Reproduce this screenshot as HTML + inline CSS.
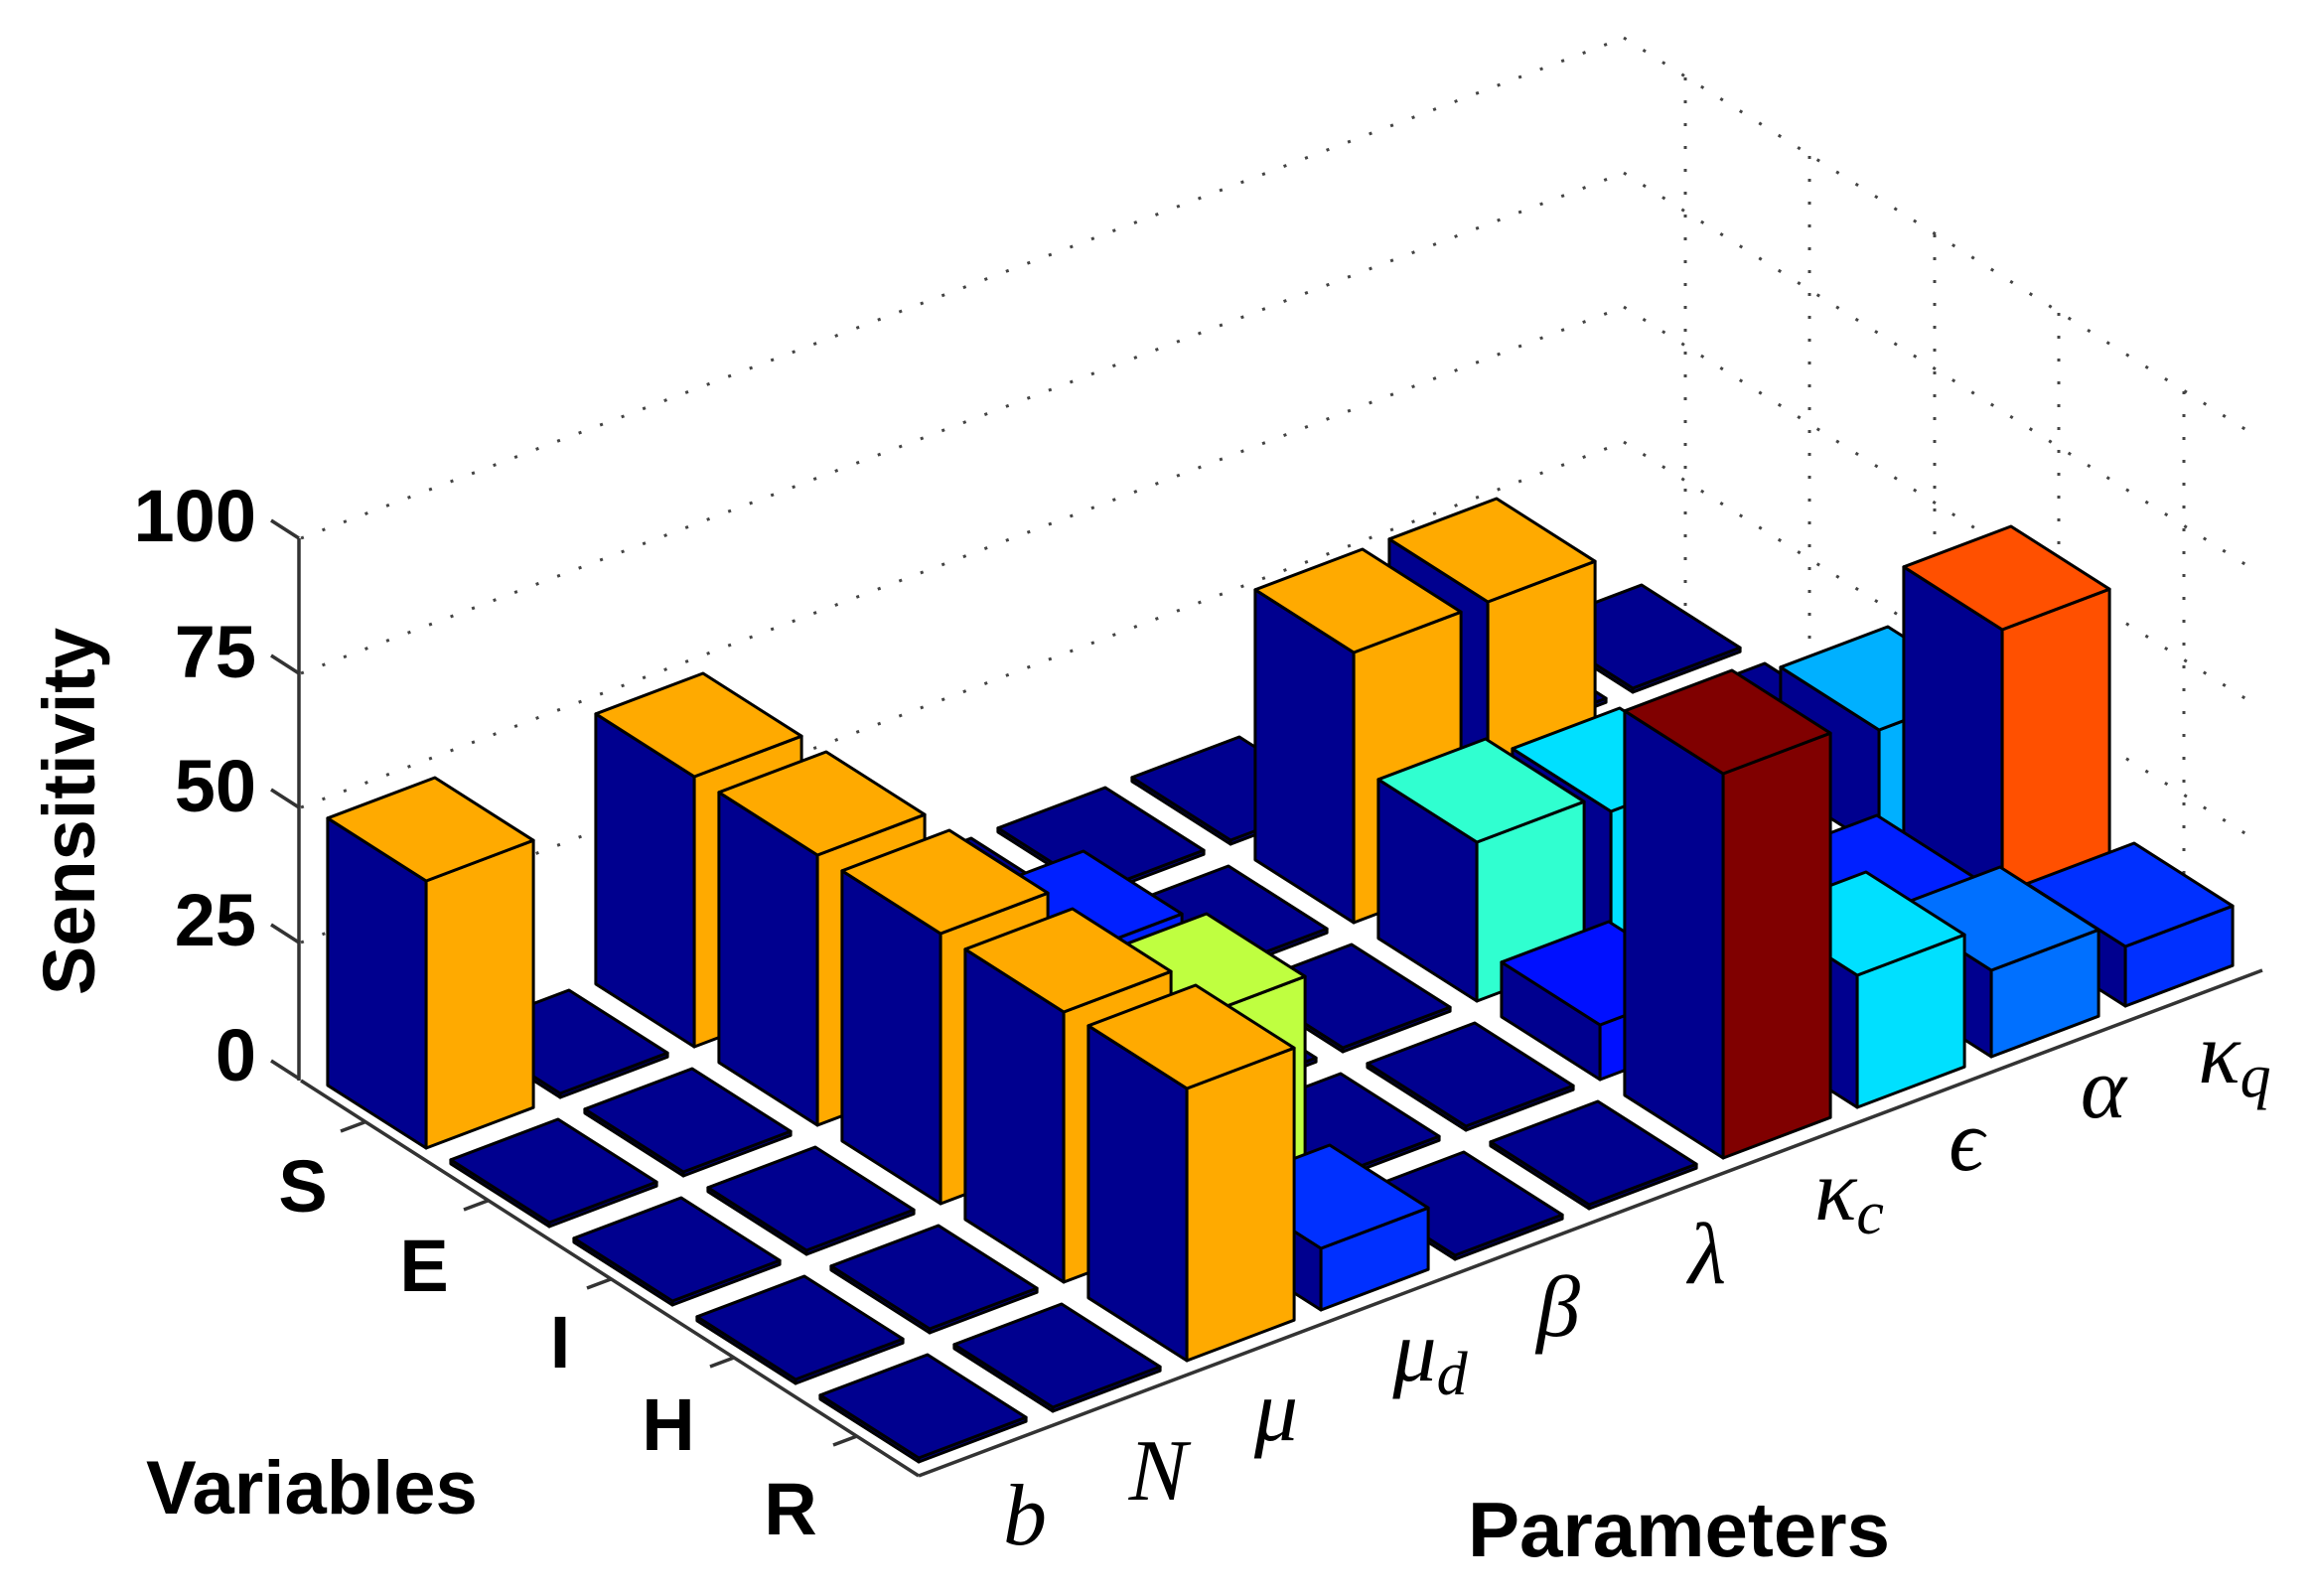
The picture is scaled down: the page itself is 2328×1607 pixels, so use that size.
<!DOCTYPE html>
<html><head><meta charset="utf-8"><style>
html,body{margin:0;padding:0;background:#fff;}
svg{display:block;}
.lab{font-family:"Liberation Sans",Arial,sans-serif;font-weight:bold;fill:#000;}
.par{font-family:"Liberation Serif","DejaVu Serif",serif;font-style:italic;fill:#000;}
</style></head><body>
<svg id="s" width="2328" height="1607" viewBox="0 0 2328 1607" xmlns="http://www.w3.org/2000/svg">
<g id="grid" fill="none" stroke="#444" stroke-width="3" stroke-dasharray="3 20">
<line x1="303" y1="542" x2="1635" y2="38"/>
<line x1="303" y1="678" x2="1635" y2="174"/>
<line x1="303" y1="813" x2="1635" y2="309"/>
<line x1="303" y1="949" x2="1635" y2="445"/>
<line x1="1635" y1="38" x2="2262" y2="433"/>
<line x1="1635" y1="174" x2="2262" y2="569"/>
<line x1="1635" y1="309" x2="2262" y2="704"/>
<line x1="1635" y1="445" x2="2262" y2="840"/>
<line x1="1697" y1="78" x2="1697" y2="620"/>
<line x1="1822" y1="157" x2="1822" y2="699"/>
<line x1="1948" y1="236" x2="1948" y2="778"/>
<line x1="2073" y1="315" x2="2073" y2="857"/>
<line x1="2199" y1="394" x2="2199" y2="936"/>
</g>
<g stroke="#333" stroke-width="3.5" fill="none">
<line x1="301" y1="542" x2="301" y2="1088"/>
<line x1="301" y1="542" x2="273" y2="524"/>
<line x1="301" y1="678" x2="273" y2="660"/>
<line x1="301" y1="813" x2="273" y2="795"/>
<line x1="301" y1="949" x2="273" y2="931"/>
<line x1="301" y1="1086" x2="273" y2="1068"/>
<line x1="303" y1="1088" x2="925" y2="1486"/>
<line x1="925" y1="1486" x2="2278" y2="977"/>
<line x1="367" y1="1130" x2="343" y2="1139"/>
<line x1="491" y1="1209" x2="467" y2="1218"/>
<line x1="615" y1="1288" x2="591" y2="1297"/>
<line x1="739" y1="1367" x2="715" y2="1376"/>
<line x1="863" y1="1446" x2="839" y2="1455"/>
</g>
<g id="bars" stroke="#000" stroke-width="3" stroke-linejoin="round"></g>
<text class="lab" font-size="74" x="258" y="545" text-anchor="end">100</text>
<text class="lab" font-size="74" x="258" y="682" text-anchor="end">75</text>
<text class="lab" font-size="74" x="258" y="817" text-anchor="end">50</text>
<text class="lab" font-size="74" x="258" y="952" text-anchor="end">25</text>
<text class="lab" font-size="74" x="258" y="1088" text-anchor="end">0</text>
<text class="lab" font-size="74" transform="translate(95,817) rotate(-90)" text-anchor="middle">Sensitivity</text>
<text class="lab" font-size="74" x="305" y="1220" text-anchor="middle">S</text>
<text class="lab" font-size="74" x="427" y="1300" text-anchor="middle">E</text>
<text class="lab" font-size="74" x="564" y="1377" text-anchor="middle">I</text>
<text class="lab" font-size="74" x="673" y="1460" text-anchor="middle">H</text>
<text class="lab" font-size="74" x="796" y="1545" text-anchor="middle">R</text>
<text class="lab" font-size="76" x="147" y="1524">Variables</text>
<text class="lab" font-size="78" x="1478" y="1567">Parameters</text>
<text class="par" font-size="88" x="1032" y="1555" text-anchor="middle">b</text>
<text class="par" font-size="88" x="1166" y="1510" text-anchor="middle">N</text>
<text class="par" font-size="88" x="1285" y="1450" text-anchor="middle">μ</text>
<text class="par" font-size="88" x="1440" y="1390" text-anchor="middle">μ<tspan font-size="62" dy="14">d</tspan></text>
<text class="par" font-size="88" x="1569" y="1345" text-anchor="middle">β</text>
<text class="par" font-size="88" x="1719" y="1292" text-anchor="middle">λ</text>
<text class="par" font-size="88" x="1862" y="1228" text-anchor="middle">κ<tspan font-size="62" dy="14">c</tspan></text>
<text class="par" font-size="88" x="1980" y="1178" text-anchor="middle">ϵ</text>
<text class="par" font-size="88" x="2118" y="1125" text-anchor="middle">α</text>
<text class="par" font-size="88" x="2250" y="1090" text-anchor="middle">κ<tspan font-size="62" dy="14">q</tspan></text>
</svg>
<script>
(function(){
var O=[304,1090],U=[135,-51],V=[124,79];
function P(a,b,h){return (O[0]+U[0]*a+V[0]*b).toFixed(1)+','+(O[1]+U[1]*a+V[1]*b-h).toFixed(1);}
var NAVY='#00008F';
var spec={
'0,0':[269,'#FFAA00'],
'2,0':[272,'#FFAA00'],'2,1':[272,'#FFAA00'],'2,2':[272,'#FFAA00'],'2,3':[272,'#FFAA00'],'2,4':[274,'#FFAA00'],
'3,2':[200,'#0020FF'],'3,3':[216,'#BFFF40'],'3,4':[62,'#0030FF'],
'6,1':[272,'#FFAA00'],'7,1':[272,'#FFAA00'],
'6,2':[160,'#30FFD0'],'7,2':[140,'#00E0FF'],
'6,3':[55,'#0010FF'],'6,4':[387,'#800000'],
'7,4':[133,'#00E0FF'],'8,3':[60,'#0020FF'],'8,4':[87,'#0070FF'],
'9,2':[120,'#00B0FF'],'9,3':[300,'#FF5000'],'9,4':[60,'#0030FF']
};
var cells=[];
for(var i=0;i<10;i++)for(var j=0;j<5;j++)cells.push([i,j]);
cells.sort(function(p,q){return (p[1]-p[0])-(q[1]-q[0]) || (p[1]-q[1]);});
var g=document.getElementById('bars'),out='';
cells.forEach(function(c){
 var i=c[0],j=c[1],s=spec[i+','+j],h=s?s[0]:4,col=s?s[1]:NAVY;
 var a0=i+0.1,a1=i+0.9,b0=j+0.1,b1=j+0.9;
 out+='<polygon fill="'+NAVY+'" points="'+[P(a0,b0,0),P(a0,b1,0),P(a0,b1,h),P(a0,b0,h)].join(' ')+'"/>';
 out+='<polygon fill="'+col+'" points="'+[P(a0,b1,0),P(a1,b1,0),P(a1,b1,h),P(a0,b1,h)].join(' ')+'"/>';
 out+='<polygon fill="'+col+'" points="'+[P(a0,b0,h),P(a1,b0,h),P(a1,b1,h),P(a0,b1,h)].join(' ')+'"/>';
});
g.innerHTML=out;
})();
</script>
</body></html>
